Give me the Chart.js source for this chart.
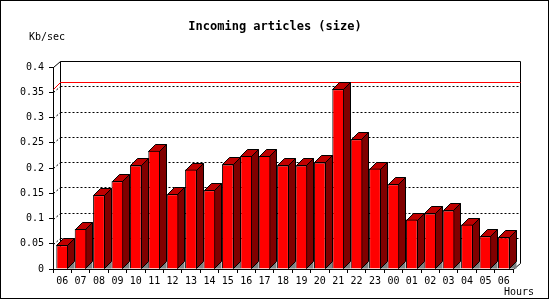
<!DOCTYPE html>
<html>
<head>
<meta charset="utf-8">
<script src="https://cdn.jsdelivr.net/npm/chart.js@4/dist/chart.umd.min.js"></script>
<style>
body { margin: 0; background: #fff; }
#grafico { display: block; }
</style>
</head>
<body>
<canvas id="grafico" width="550" height="300"></canvas>
<script>
// horas del eje x (24h, de 06 a 06)
const horas = ["06","07","08","09","10","11","12","13","14","15","16","17","18","19","20","21","22","23","00","01","02","03","04","05","06"]
// Kb/sec
const valores = [0.047, 0.079, 0.146, 0.174, 0.205, 0.234, 0.148, 0.197, 0.156, 0.207, 0.224, 0.224,
                 0.205, 0.205, 0.211, 0.356, 0.257, 0.199, 0.168, 0.098, 0.110, 0.116, 0.088, 0.065, 0.063]
const etiquetasY = ["0","0.05","0.1","0.15","0.2","0.25","0.3","0.35","0.4"]

const titulo = "Incoming articles (size)"
const unidad = "Kb/sec"
const ejeX = "Hours"

const fuente = "'DejaVu Sans Mono', monospace"
const PDX = 7, PDY = 6   // profundidad del plano del fondo
const BDX = 7, BDY = 7   // profundidad de las barras

const linea = (ctx, x1, y1, x2, y2) => {
    ctx.beginPath()
    ctx.moveTo(x1, y1)
    ctx.lineTo(x2, y2)
    ctx.stroke()
}

const poligono = (ctx, puntos, relleno) => {
    ctx.beginPath()
    ctx.moveTo(puntos[0][0], puntos[0][1])
    puntos.slice(1).forEach(p => ctx.lineTo(p[0], p[1]))
    ctx.closePath()
    ctx.fillStyle = relleno
    ctx.fill()
    ctx.stroke()
}

const tresD = {
    id: "tresD",
    beforeDatasetsDraw(chart) {
        const ctx = chart.ctx
        const area = chart.chartArea
        const ey = chart.scales.y
        const L = area.left + 0.5, R = area.right + 0.5
        const yTop = Math.round(ey.getPixelForValue(0.4)) + 0.5
        const yCero = Math.round(ey.getPixelForValue(0)) + 0.5

        ctx.save()
        ctx.lineWidth = 1
        ctx.strokeStyle = "#000"

        // lineas punteadas del fondo
        ctx.setLineDash([2, 2])
        ey.ticks.forEach(t => {
            if (t.value <= 0 || t.value >= 0.4) return
            const yf = Math.round(ey.getPixelForValue(t.value)) + 0.5
            linea(ctx, L + PDX, yf - PDY, R + PDX, yf - PDY)
            linea(ctx, L, yf, L + PDX, yf - PDY)
        })
        ctx.setLineDash([])

        // marco del fondo
        linea(ctx, L, yTop, L + PDX, yTop - PDY)
        linea(ctx, L + PDX, yTop - PDY, R + PDX, yTop - PDY)
        linea(ctx, R + PDX, yTop - PDY, R + PDX, yCero - PDY)
        linea(ctx, L + PDX, yTop - PDY, L + PDX, yCero - PDY)
        linea(ctx, R, yCero, R + PDX, yCero - PDY)

        // linea del maximo
        const maximo = Math.max(...valores)
        const ym = Math.round(ey.getPixelForValue(maximo)) + 0.5
        ctx.strokeStyle = "#ff0000"
        linea(ctx, L, ym, L + PDX, ym - BDY)
        linea(ctx, L + PDX, ym - BDY, R + PDX, ym - BDY)

        // caras de arriba y del costado
        ctx.strokeStyle = "#000"
        const meta = chart.getDatasetMeta(0)
        meta.data.forEach(barra => {
            const izq = Math.round(barra.x - barra.width / 2) + 0.5
            const der = Math.round(barra.x + barra.width / 2) - 0.5
            const arriba = Math.round(barra.y) + 0.5
            const base = Math.round(barra.base) - 0.5
            ctx.fillStyle = "#808080"
            ctx.beginPath()
            ctx.moveTo(der, base)
            ctx.lineTo(der + BDX, base - BDY)
            ctx.lineTo(der + BDX, base)
            ctx.closePath()
            ctx.fill()
            poligono(ctx, [[der, arriba], [der + BDX, arriba - BDY], [der + BDX, base - BDY], [der, base]], "#800000")
            poligono(ctx, [[izq, arriba], [izq + BDX, arriba - BDY], [der + BDX, arriba - BDY], [der, arriba]], "#c00000")
        })
        ctx.restore()
    },
    afterDraw(chart) {
        const ctx = chart.ctx
        ctx.save()
        ctx.fillStyle = "#000"
        ctx.textBaseline = "middle"
        ctx.font = "bold 12px " + fuente
        ctx.textAlign = "center"
        ctx.fillText(titulo, 275, 27)
        ctx.font = "10px " + fuente
        ctx.textAlign = "left"
        ctx.fillText(unidad, 29, 37)
        ctx.fillText(ejeX, 504, 292)
        ctx.strokeStyle = "#000"
        ctx.lineWidth = 1
        ctx.strokeRect(0.5, 0.5, 548, 298)
        ctx.restore()
    }
}

const grafico = document.getElementById("grafico")

const config = {
    type: "bar",
    data: {
        labels: horas,
        datasets: [{
            data: valores,
            backgroundColor: "#ff0000",
            borderColor: "#000",
            borderWidth: 1,
            categoryPercentage: 1,
            barPercentage: 0.64
        }]
    },
    options: {
        responsive: false,
        animation: false,
        layout: { padding: { top: 67, right: 37, left: 0, bottom: 0 } },
        plugins: {
            legend: { display: false },
            tooltip: { enabled: false },
            title: { display: false }
        },
        scales: {
            x: {
                offset: true,
                grid: { offset: true, drawOnChartArea: false, tickLength: 4, color: "#000" },
                border: { color: "#000" },
                ticks: { color: "#000", font: { family: fuente, size: 10 }, padding: 2, maxRotation: 0, autoSkip: false },
                afterFit: s => { s.height = 31 }
            },
            y: {
                min: 0,
                max: 0.4,
                grid: { drawOnChartArea: false, tickLength: 4, color: "#000" },
                border: { color: "#000" },
                ticks: {
                    stepSize: 0.05,
                    color: "#000",
                    font: { family: fuente, size: 10 },
                    padding: 5,
                    callback: (v, i) => etiquetasY[i]
                },
                afterFit: s => { s.width = 53 }
            }
        }
    },
    plugins: [tresD]
}

new Chart(grafico, config)
</script>
</body>
</html>
